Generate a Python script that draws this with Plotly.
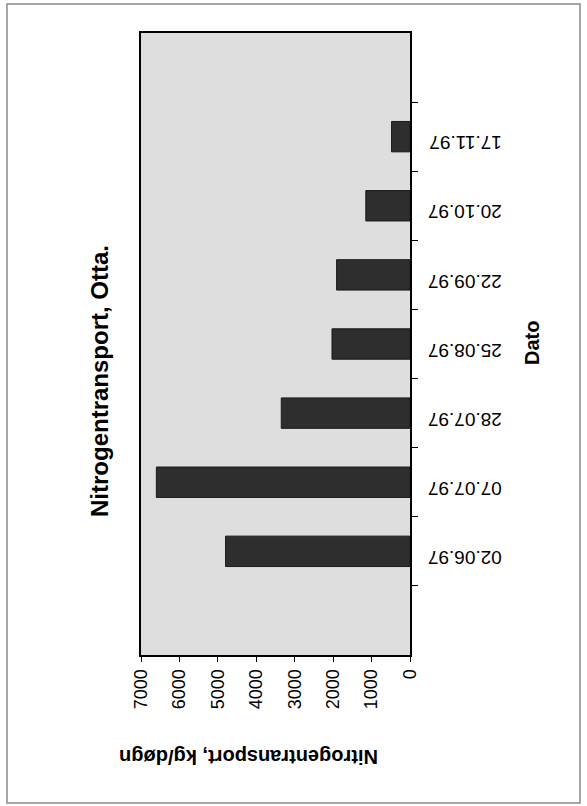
import plotly.graph_objects as go

dates = ["02.06.97", "07.07.97", "28.07.97", "25.08.97", "22.09.97", "20.10.97", "17.11.97"]
values = [4800, 6600, 3350, 2030, 1910, 1150, 480]
value_ticks = [0, 1000, 2000, 3000, 4000, 5000, 6000, 7000]

W, H = 587, 806
FONT = "Arial, Liberation Sans, Helvetica, sans-serif"

pos = list(range(len(dates)))
minor_vals = [p - 0.5 for p in pos] + [pos[-1] + 0.5]

fig = go.Figure()
fig.add_trace(go.Bar(
    x=values, y=pos, orientation="h", width=0.44,
    marker=dict(color="#2e2e2e", line=dict(color="#1a1a1a", width=1)),
    showlegend=False,
))

def px(x):
    return x / W

def py(y):
    return (H - y) / H

fig.update_layout(
    width=W, height=H,
    margin=dict(l=0, r=0, t=0, b=0),
    paper_bgcolor="white",
    plot_bgcolor="#dedede",
    font=dict(family=FONT, color="black"),
    xaxis=dict(
        domain=[px(141), px(410)],
        range=[7000, 0],
        tickvals=value_ticks,
        ticktext=[str(v) for v in value_ticks],
        tickangle=-90,
        tickfont=dict(size=18, family=FONT),
        ticks="outside", ticklen=5, tickwidth=1, tickcolor="black",
        showgrid=False, zeroline=False,
        showline=True, linecolor="black", linewidth=2, mirror=True,
        automargin=False,
    ),
    yaxis=dict(
        domain=[py(655), py(33)],
        range=[-1.5, len(dates) + 0.5],
        side="right",
        tickvals=pos,
        ticktext=dates,
        tickangle=180,
        tickfont=dict(size=19, family=FONT),
        ticks="", ticklen=0,
        ticklabelstandoff=86,
        ticklabelshift=12,
        minor=dict(tickvals=minor_vals, ticks="outside", ticklen=6,
                   tickwidth=1, tickcolor="black", showgrid=False),
        showgrid=False, zeroline=False,
        showline=True, linecolor="black", linewidth=2, mirror=True,
        automargin=False,
    ),
    shapes=[dict(type="rect", xref="paper", yref="paper",
                 x0=px(7), x1=px(580), y0=py(803), y1=py(4),
                 line=dict(color="#8a8a8a", width=1.5), fillcolor="rgba(0,0,0,0)",
                 layer="below")],
    annotations=[
        dict(text="<b>Nitrogentransport, Otta.</b>", x=px(100), y=py(381),
             xref="paper", yref="paper", showarrow=False, textangle=-90,
             font=dict(size=24, family=FONT), xanchor="center", yanchor="middle"),
        dict(text="<b>Dato</b>", x=px(532), y=py(343),
             xref="paper", yref="paper", showarrow=False, textangle=-90,
             font=dict(size=20, family=FONT), xanchor="center", yanchor="middle"),
        dict(text="<b>Nitrogentransport, kg/døgn</b>", x=px(249), y=py(757),
             xref="paper", yref="paper", showarrow=False, textangle=180,
             font=dict(size=20, family=FONT), xanchor="center", yanchor="middle"),
    ],
)

fig.write_html("out.html")
